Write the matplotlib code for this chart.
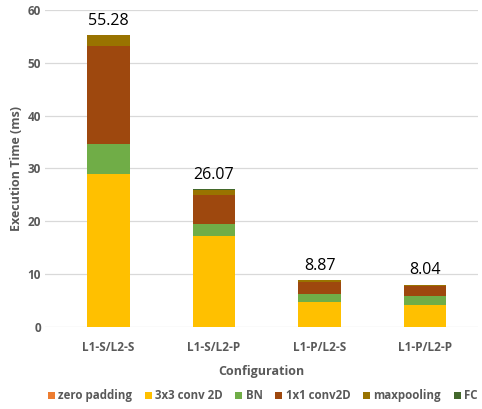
import matplotlib
matplotlib.use("Agg")
import matplotlib.pyplot as plt
import numpy as np

plt.rcParams['font.family'] = ['Open Sans', 'DejaVu Sans']

# Данные (мс)
configs = ["L1-S/L2-S", "L1-S/L2-P", "L1-P/L2-S", "L1-P/L2-P"]
layers = ["zero padding", "3x3 conv 2D", "BN", "1x1 conv2D", "maxpooling", "FC"]
zero_padding = [0.02, 0.02, 0.02, 0.02]
conv3x3 = [28.93, 17.2, 4.68, 4.18]
bn = [5.7, 2.2, 1.6, 1.6]
conv1x1 = [18.6, 5.6, 2.3, 1.9]
maxpooling = [2.0, 0.9, 0.2, 0.25]
fc = [0.03, 0.15, 0.07, 0.09]
colors = ["#ED7D31", "#FFC000", "#70AD47", "#9E480E", "#997300", "#43682B"]

series = [zero_padding, conv3x3, bn, conv1x1, maxpooling, fc]
gray = "#595959"

fig = plt.figure(figsize=(4.82, 4.09), dpi=100)
ax = fig.add_axes([0.0934, 0.2005, 0.8983, 0.7751])

x = np.arange(len(configs))
bottom = np.zeros(len(configs))
for name, vals, c in zip(layers, series, colors):
    ax.bar(x, vals, 0.4, bottom=bottom, color=c, label=name, zorder=3)
    bottom += np.array(vals)

# Подписи суммы над столбцами
for xi, total in zip(x, bottom):
    ax.text(xi, total + 1.2, f"{total:.2f}", ha='center', va='bottom', fontsize=11.5, color='black')

ax.set_xlim(-0.6, 3.5)
ax.set_ylim(0, 60)
ax.set_yticks(range(0, 61, 10))
ax.set_xticks(x)
ax.set_xticklabels(configs, fontsize=8.5, fontweight='bold', color=gray)
ax.tick_params(axis='y', labelsize=8.5, labelcolor=gray, length=0, pad=3)
ax.tick_params(axis='x', length=0, pad=10)
for lbl in ax.get_yticklabels():
    lbl.set_fontweight('bold')
ax.grid(axis='y', color='#D9D9D9', linewidth=0.9, zorder=0)
for s in ax.spines.values():
    s.set_visible(False)

ax.set_ylabel("Execution Time (ms)", fontsize=9, fontweight='bold', color=gray, labelpad=3)
ax.set_xlabel("Configuration", fontsize=9, fontweight='bold', color=gray, labelpad=8)

fig.legend(loc='center', bbox_to_anchor=(0.545, 0.032), ncol=6, frameon=False,
           prop={'size': 8.3, 'weight': 'bold'}, handlelength=0.6, handleheight=0.6,
           handletextpad=0.3, columnspacing=1.1, labelcolor=gray)

fig.savefig("out.png", dpi=100)
